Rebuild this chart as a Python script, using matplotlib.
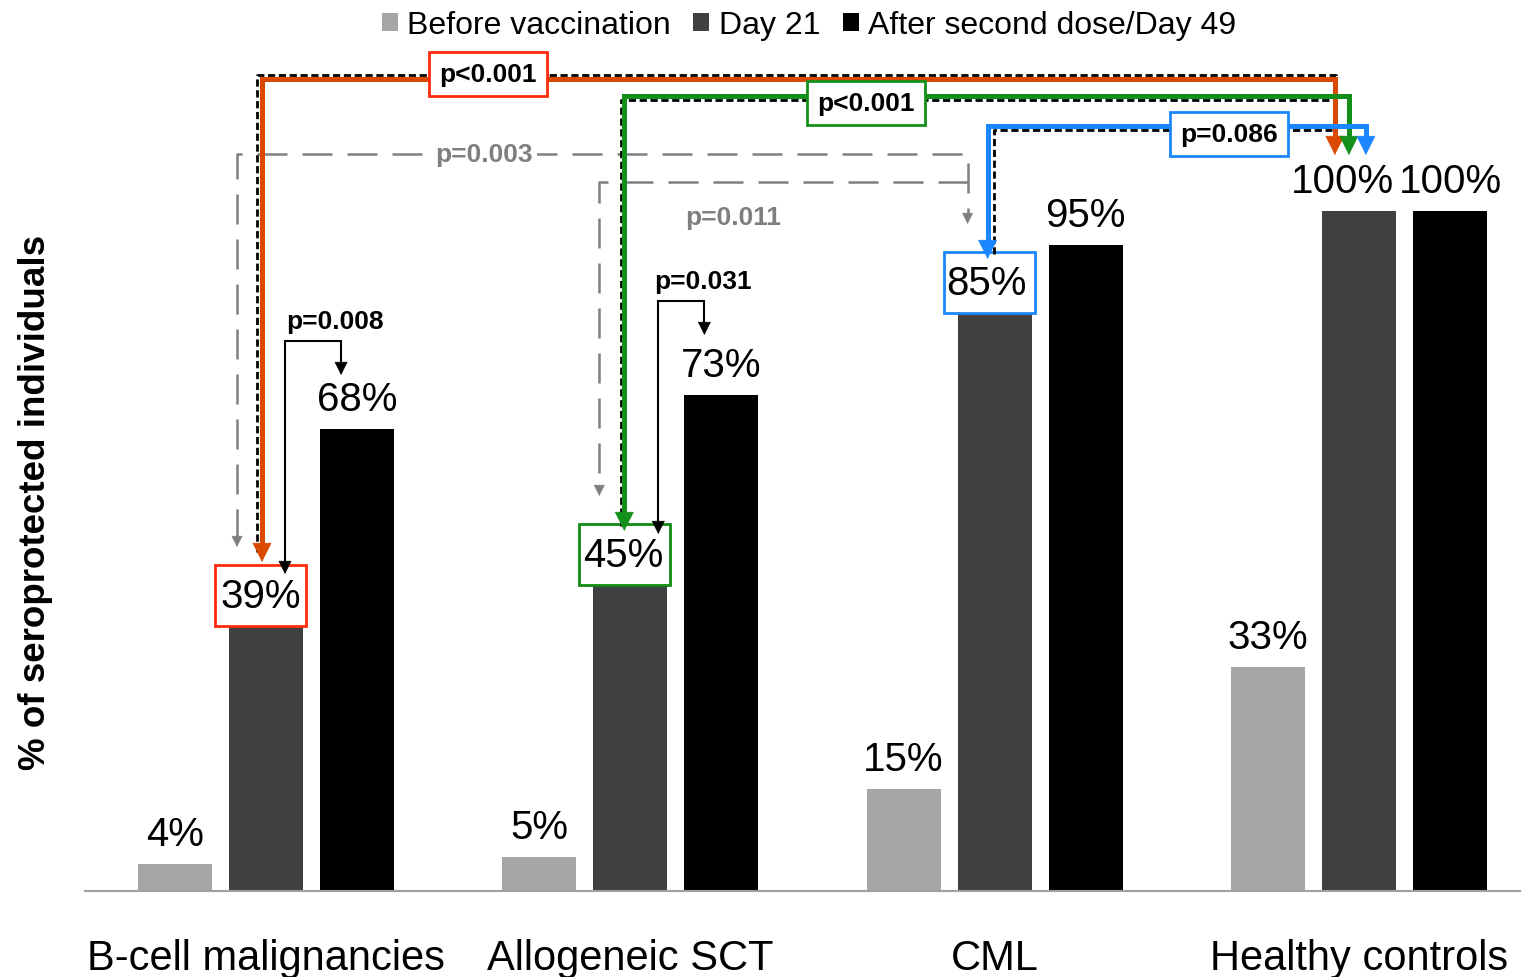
import matplotlib
matplotlib.use("Agg")
import matplotlib.pyplot as plt
from matplotlib.patches import Rectangle

plt.rcParams['font.family'] = ['Liberation Sans', 'DejaVu Sans']

groups = ['B-cell malignancies', 'Allogeneic SCT', 'CML', 'Healthy controls']
series = ['Before vaccination', 'Day 21', 'After second dose/Day 49']
before = [4, 5, 15, 33]
day21 = [39, 45, 85, 100]
day49 = [68, 73, 95, 100]
colors = ['#a6a6a6', '#404040', '#000000']

# pixel scale of the canvas: one group step and one percent
GX = 364.3
GY = 6.8


def dx(p):
    return p / GX


def dy(p):
    return p / GY


def py(p):
    # pixel row (from top) to percent
    return (892 - p) / GY


fig = plt.figure(figsize=(15.21, 9.78), dpi=100)
ax = fig.add_axes([0, 0, 1, 1])
ax.set_xlim(-266 / GX, (1521 - 266) / GX)
ax.set_ylim(-86 / GY, (978 - 86) / GY)
ax.axis('off')

width = 0.203
offs = [-0.25, 0, 0.25]
bars = []
for k, vals in enumerate([before, day21, day49]):
    xs = [i + offs[k] for i in range(len(groups))]
    b = ax.bar(xs, vals, width=width, color=colors[k], label=series[k], zorder=2)
    bars.append(b)

# baseline
ax.plot([dx(85 - 266), dx(1521 - 266)], [0, 0], color='#a0a0a0', lw=1.5, zorder=3)

# value labels
shift = {(1, 0): -5, (1, 1): -7, (1, 2): -8, (1, 3): -16}
for k, vals in enumerate([before, day21, day49]):
    for i, v in enumerate(vals):
        x = i + offs[k] + dx(shift.get((k, i), 0))
        ax.text(x, v + dy(19), f'{v}%', ha='center', va='baseline',
                fontsize=29, zorder=6)

# coloured boxes around the Day 21 labels compared with controls
for i, ec in [(0, '#ff2a0a'), (1, '#138a13'), (2, '#1a86ff')]:
    v = day21[i]
    ax.add_patch(Rectangle((i - dx(51), v), dx(91), dy(61), fill=False,
                           ec=ec, lw=2, zorder=5))


def head(x, tip, sgn, color, hl, hw, z):
    ax.annotate('', xy=(x, tip), xytext=(x, tip + sgn * dy(hl)),
                arrowprops=dict(arrowstyle=f'-|>,head_length={hl / 10:.2f},head_width={hw / 20:.2f}',
                                color=color, lw=0.5, shrinkA=0, shrinkB=0,
                                mutation_scale=10 * 72 / 100), zorder=z)


def elbow(pts, color, lw, hl, hw, dashes=None, ends=(True, True), z=7):
    xs, ys = map(list, zip(*pts))
    tips = [ys[0], ys[-1]]
    s0 = 1 if ys[1] > ys[0] else -1
    s1 = 1 if ys[-2] > ys[-1] else -1
    if ends[0]:
        ys[0] = tips[0] + s0 * dy(hl * 0.8)
    if ends[1]:
        ys[-1] = tips[1] + s1 * dy(hl * 0.8)
    line, = ax.plot(xs, ys, color=color, lw=lw, zorder=z,
                    solid_joinstyle='miter', solid_capstyle='butt')
    if dashes:
        line.set_dashes(dashes)
    if ends[0]:
        head(xs[0], tips[0], s0, color, hl, hw, z)
    if ends[1]:
        head(xs[-1], tips[1], s1, color, hl, hw, z)


def shadow(pts):
    xs, ys = zip(*pts)
    ax.plot(xs, ys, color='black', lw=2, dashes=(2.6, 1.3), zorder=6)


p_bold = dict(fontsize=19, fontweight='bold', ha='center', va='center', zorder=9)

# grey dashed comparisons to CML
gray = '#7f7f7f'
y003 = py(155)
y011 = py(183)
xc = 2 - dx(27)
elbow([(0 - dx(29), py(548)), (0 - dx(29), y003), (xc, y003), (xc, py(225))],
      gray, 1.8, 10, 10, dashes=(12, 6), z=4)
elbow([(xc, y011), (1 - dx(31), y011), (1 - dx(31), py(497))], gray, 1.8, 10, 10,
      dashes=(12, 6), ends=(False, True), z=4)
ax.text(dx(484 - 266), y003, 'p=0.003', color=gray,
        bbox=dict(fc='white', ec='none', pad=3), **p_bold)
ax.text(dx(733 - 266), py(218), 'p=0.011', color=gray, **p_bold)

# day 21 vs day 49 within group
for i, top, tipl, tipr, lab in [(0, 342, 575, 376, 'p=0.008'), (1, 302, 535, 336, 'p=0.031')]:
    xl = i + dx(19 if i == 0 else 28)
    xr = i + 0.25 - dx(16 if i == 0 else 17)
    elbow([(xl, py(tipl)), (xl, py(top)), (xr, py(top)), (xr, py(tipr))],
          'black', 1.5, 12, 12)
    ax.text((xl + xr) / 2 + dx(22), py(top) + dy(20), lab, **p_bold)

# patients vs healthy controls, each with a dashed black shadow line
orange, green, blue = '#d94a00', '#13901a', '#1a86ff'
yo, yg, yb = py(80), py(97), py(127)
tip_hc = py(156)

shadow([(0 - dx(9), py(553)), (0 - dx(9), py(76)),
        (3 - dx(23), py(76)), (3 - dx(23), py(82))])
elbow([(0 - dx(4), py(563)), (0 - dx(4), yo), (3 - dx(24), yo), (3 - dx(24), tip_hc)],
      orange, 3.6, 18, 18)

shadow([(1 - dx(9), py(527)), (1 - dx(9), py(101)), (3 - dx(27), py(101))])
elbow([(1 - dx(6), py(532)), (1 - dx(6), yg), (3 - dx(10), yg), (3 - dx(10), tip_hc)],
      green, 3.6, 18, 18)

shadow([(2 - dx(1), py(255)), (2 - dx(1), py(131)), (3 - dx(27), py(131))])
elbow([(2 - dx(7), py(260)), (2 - dx(7), yb), (3 + dx(7), yb), (3 + dx(7), tip_hc)],
      blue, 3.6, 18, 18)

for xp, yp, lab, ec in [(488, 75, 'p<0.001', '#ff2a0a'), (866, 104, 'p<0.001', green),
                        (1229, 135, 'p=0.086', blue)]:
    ax.text(dx(xp - 266), py(yp), lab, color='black',
            bbox=dict(fc='white', ec=ec, lw=2, boxstyle='square,pad=0.38'), **p_bold)

# category labels
for i, g in enumerate(groups):
    ax.text(i, dy(-78), g, ha='center', va='baseline', fontsize=30)

ax.text(dx(36 - 266), py(502), '% of seroprotected individuals', rotation=90,
        ha='center', va='center', fontsize=26.5, fontweight='bold')

fig.legend(handles=bars, labels=series, loc='center', bbox_to_anchor=(0.532, 0.973),
           ncol=3, frameon=False, fontsize=23, handlelength=0.5, handleheight=0.5,
           handletextpad=0.3, columnspacing=0.7, borderpad=0)

fig.savefig('out.png', dpi=100)
